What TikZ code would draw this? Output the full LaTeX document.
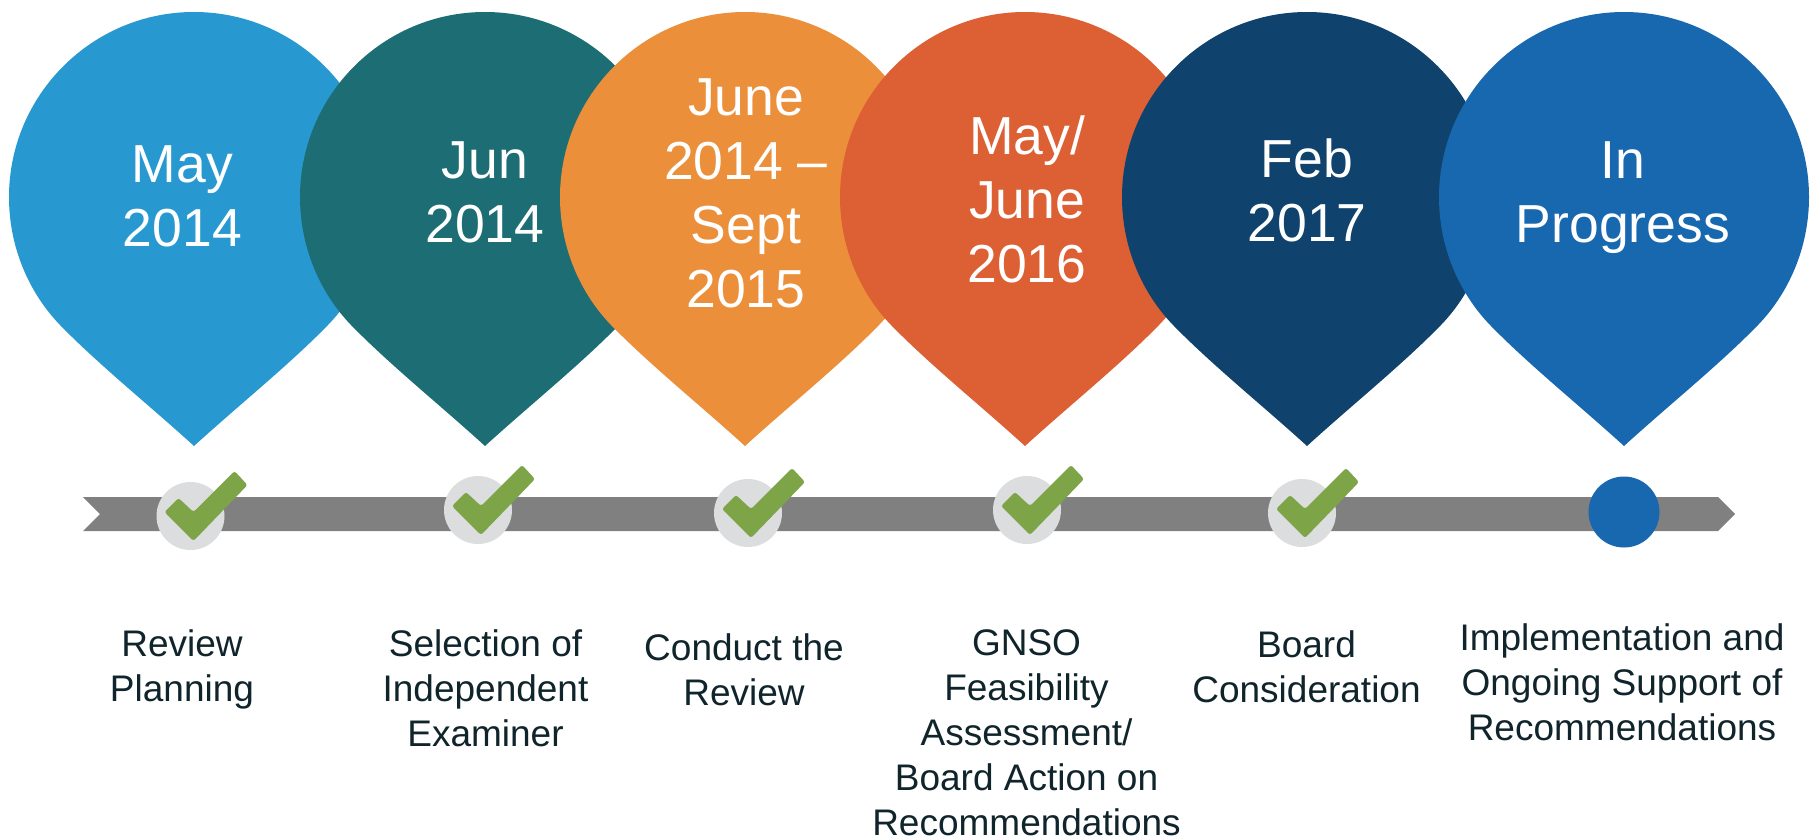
\documentclass[tikz,border=0pt]{standalone}
\usepackage{fontspec}
\setmainfont{Liberation Sans}
\definecolor{pinA}{HTML}{2899D0}
\definecolor{pinB}{HTML}{1C6E74}
\definecolor{pinC}{HTML}{EB8F3B}
\definecolor{pinD}{HTML}{DC6033}
\definecolor{pinE}{HTML}{0F426C}
\definecolor{pinF}{HTML}{1868B0}
\definecolor{bandgray}{HTML}{808080}
\definecolor{discgray}{HTML}{DCDDDE}
\definecolor{checkgreen}{HTML}{7DA446}
\definecolor{labelink}{HTML}{10242B}
\tikzset{
  pinshape/.pic={
    \fill[pic actions] (0,12) .. controls (102,12) and (185,95) .. (185,197)
      .. controls (185,250) and (163,295) .. (134,325)
      .. controls (95,365) and (45,405) .. (0,446)
      .. controls (-45,405) and (-95,365) .. (-134,325)
      .. controls (-163,295) and (-185,250) .. (-185,197)
      .. controls (-185,95) and (-102,12) .. (0,12) -- cycle;
  },
  checkdone/.pic={
    \fill[discgray] (0,0) circle[radius=34];
    \fill[checkgreen,rounded corners=2.5] (3,25) -- (-26,-4) -- (-12,-18) -- (3,-4) -- (44,-45) -- (57,-31) -- cycle;
  },
  datetext/.style={text=white,font=\fontsize{53.5}{64}\selectfont,align=center,inner sep=0pt},
  steptext/.style={text=labelink,font=\fontsize{37}{45}\selectfont,align=center,inner sep=0pt},
}
\begin{document}
\begin{tikzpicture}[x=1pt,y=-1pt]
\useasboundingbox (0,0) rectangle (1814,838);
\fill[white] (0,0) rectangle (1814,838);
\pic[pinA] at (194,0) {pinshape};
\pic[pinB] at (485,0) {pinshape};
\pic[pinC] at (745,0) {pinshape};
\pic[pinD] at (1025,0) {pinshape};
\pic[pinE] at (1307,0) {pinshape};
\pic[pinF] at (1624,0) {pinshape};
\node[datetext] (d1) at (182.5,196.5) {May\\2014};
\node[datetext] (d2) at (485,192.5) {Jun\\2014};
\node[datetext] (d3) at (746,193) {June\\2014 --\\Sept\\2015};
\node[datetext] (d4) at (1027,199.5) {May/\\June\\2016};
\node[datetext] (d5) at (1307,190.5) {Feb\\2017};
\node[datetext] (d6) at (1623,197.5) {In\\Progress};
\fill[bandgray] (83,497) -- (1718,497) -- (1735,514) -- (1718,531) -- (83,531) -- (100,514) -- cycle;
\pic at (190.5,516) {checkdone};
\pic at (478,510) {checkdone};
\pic at (748,513) {checkdone};
\pic at (1027,510) {checkdone};
\pic at (1302,513) {checkdone};
\fill[pinF] (1624,512) circle[radius=35.5];
\node[steptext] (s1) at (182,669) {Review\\Planning};
\node[steptext] (s2) at (485.5,688.5) {Selection of\\Independent\\Examiner};
\node[steptext] (s3) at (744,669.5) {Conduct the\\Review};
\node[steptext] (s4) at (1026.5,733) {GNSO\\Feasibility\\Assessment/\\Board Action on\\Recommendations};
\node[steptext] (s5) at (1306.5,666.5) {Board\\Consideration};
\node[steptext] (s6) at (1622,682) {Implementation and\\Ongoing Support of\\Recommendations};
\end{tikzpicture}
\end{document}
